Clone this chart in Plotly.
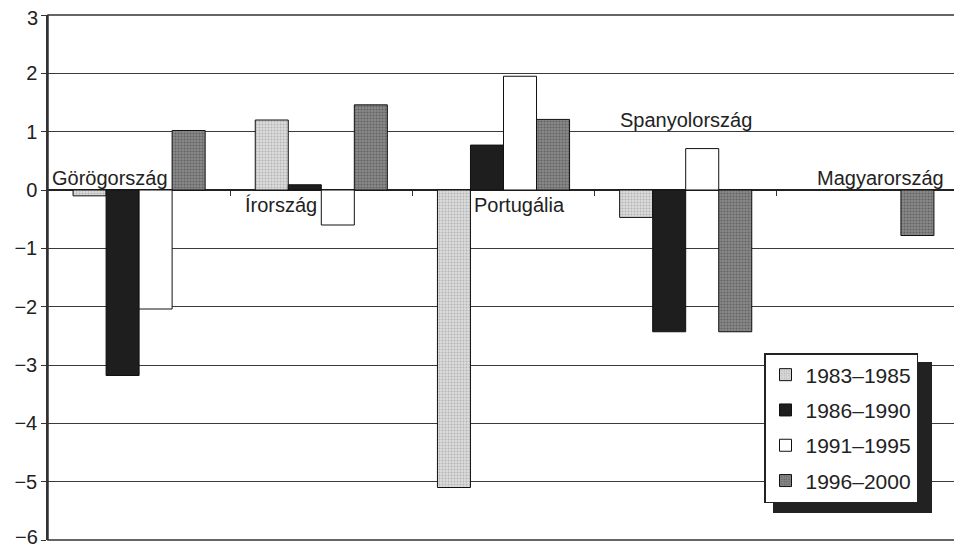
import plotly.graph_objects as go

countries = ["Görögország", "Írország", "Portugália", "Spanyolország", "Magyarország"]
periods = ["1983–1985", "1986–1990", "1991–1995", "1996–2000"]
v_1983_1985 = [-0.1, 1.2, -5.1, -0.47, None]
v_1986_1990 = [-3.18, 0.09, 0.77, -2.43, None]
v_1991_1995 = [-2.04, -0.6, 1.95, 0.71, None]
v_1996_2000 = [1.02, 1.46, 1.21, -2.43, -0.78]
y_ticks = [3, 2, 1, 0, -1, -2, -3, -4, -5, -6]

series = [v_1983_1985, v_1986_1990, v_1991_1995, v_1996_2000]
styles = [
    dict(color="#d4d4d4", pattern=dict(shape=".", fgcolor="#8a8a8a", bgcolor="#dcdcdc", size=3, solidity=0.35)),
    dict(color="#1e1e1e"),
    dict(color="#ffffff"),
    dict(color="#6a6a6a", pattern=dict(shape=".", fgcolor="#3a3a3a", bgcolor="#8a8a8a", size=3, solidity=0.4)),
]

xs = list(range(len(countries)))
fig = go.Figure()
for i, (name, vals, st) in enumerate(zip(periods, series, styles)):
    marker = dict(color=st["color"], line=dict(color="#111111", width=1))
    if "pattern" in st:
        marker["pattern"] = st["pattern"]
    fig.add_trace(go.Bar(x=xs, y=vals, name=name, marker=marker, legendgroup=f"g{i}"))

FONT = "Liberation Sans, Arial, sans-serif"

# page offset of the graph div (default body margin)
OFF = 8
L, T, PW, PH = 48, 15, 911, 525  # desired plot area in window pixels

def fmt(v):
    return str(v).replace("-", "\u2212")

# end tick labels drawn as annotations nudged inward so they stay inside the page
y_min, y_max = min(y_ticks), max(y_ticks)
tick_text = ["" if v in (y_min, y_max) else fmt(v) for v in y_ticks]
for v, shift in ((y_max, -3), (y_min, 3)):
    fig.add_annotation(text=fmt(v), xref="paper", yref="y", x=0, y=v, xanchor="right",
                       yanchor="middle", xshift=-9, yshift=shift, showarrow=False,
                       borderpad=0, font=dict(family=FONT, size=20, color="#222222"))

# category labels
label_pos = [
    dict(x=-0.484, y=0, xanchor="left", yanchor="bottom", yshift=0),
    dict(x=0.779, y=0, xanchor="center", yanchor="top", yshift=-3),
    dict(x=2.09, y=0, xanchor="center", yanchor="top", yshift=-3),
    dict(x=3.0, y=1, xanchor="center", yanchor="bottom", yshift=0),
    dict(x=4.07, y=0, xanchor="center", yanchor="bottom", yshift=0),
]
for name, p in zip(countries, label_pos):
    fig.add_annotation(text=name, xref="x", yref="y", showarrow=False,
                       font=dict(family=FONT, size=20, color="#222222"), borderpad=0, **p)

# legend shadow
fig.add_shape(type="rect", xref="paper", yref="paper",
              x0=(773 - L) / PW, x1=(932 - L) / PW,
              y0=(T + PH - 513) / PH, y1=(T + PH - 362) / PH,
              fillcolor="#222222", line=dict(width=0), layer="above")
# frame
fig.add_shape(type="rect", xref="paper", yref="paper", x0=0, x1=1, y0=0, y1=1,
              line=dict(color="#333333", width=1.5), layer="above")

fig.update_layout(
    width=962 - OFF, height=547 - OFF,
    margin=dict(l=L - OFF, r=962 - L - PW, t=T - OFF, b=547 - T - PH, autoexpand=False),
    paper_bgcolor="white", plot_bgcolor="white",
    barmode="group", bargap=0.275, bargroupgap=0,
    font=dict(family=FONT, size=21, color="#222222"),
    showlegend=True,
    legend=dict(x=(764 - L) / PW, y=(T + PH - 353) / PH, xanchor="left", yanchor="top",
                bgcolor="white", bordercolor="#222222", borderwidth=1.5,
                font=dict(family=FONT, size=21, color="#222222"),
                tracegroupgap=5, traceorder="grouped"),
    xaxis=dict(range=[-0.5, 4.5], anchor="free", position=6 / 9,
               tickvals=[0.5, 1.5, 2.5, 3.5], ticks="outside", ticklen=5,
               tickcolor="#333333", showticklabels=False, showgrid=False,
               showline=False, zeroline=False, automargin=False),
    yaxis=dict(range=[-6, 3], tickvals=y_ticks, ticktext=tick_text,
               ticks="outside", ticklen=5,
               tickcolor="#333333", showgrid=True, gridcolor="#3a3a3a", gridwidth=1,
               zeroline=True, zerolinecolor="#222222", zerolinewidth=1.5,
               showline=True, linecolor="#333333", linewidth=1.5, mirror=True,
               automargin=False, ticklabeloverflow="allow",
               tickfont=dict(family=FONT, size=20, color="#222222")),
)

fig.write_html("out.html")
